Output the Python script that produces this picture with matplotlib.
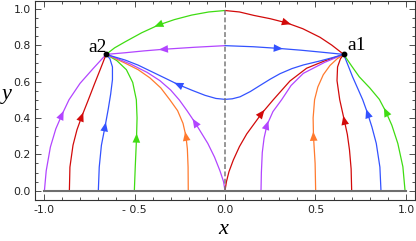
import numpy as np
import matplotlib
matplotlib.use("Agg")
import matplotlib.pyplot as plt
from matplotlib.ticker import FixedLocator, MultipleLocator

# ---- data ----
a1 = (0.656, 0.749)
a2 = (-0.657, 0.749)

# trajectories ending at a2 (ordered start -> a2)
purple_m1 = [(-0.998, 0.0), (-0.988, 0.11), (-0.965, 0.24), (-0.935, 0.34), (-0.902, 0.416),
             (-0.862, 0.50), (-0.801, 0.59), (-0.728, 0.672), a2]
red_m086 = [(-0.860, 0.0), (-0.857, 0.13), (-0.840, 0.25), (-0.818, 0.335), (-0.792, 0.407),
            (-0.757, 0.495), (-0.722, 0.585), (-0.690, 0.665), a2]
blue_m07 = [(-0.700, 0.0), (-0.695, 0.13), (-0.683, 0.25), (-0.663, 0.352), (-0.645, 0.45),
            (-0.632, 0.53), (-0.622, 0.61), (-0.622, 0.68), (-0.636, 0.725), a2]
green_m05 = [(-0.501, 0.0), (-0.496, 0.13), (-0.489, 0.29), (-0.486, 0.40), (-0.490, 0.50),
             (-0.510, 0.595), (-0.545, 0.665), (-0.598, 0.715), a2]
orange_m02 = [(-0.203, 0.0), (-0.204, 0.13), (-0.208, 0.23), (-0.216, 0.30), (-0.232, 0.37),
              (-0.262, 0.44), (-0.305, 0.50), (-0.355, 0.565), (-0.415, 0.62), (-0.480, 0.665),
              (-0.550, 0.70), (-0.610, 0.728), a2]
purple_0 = [(0.0, 0.0), (-0.008, 0.05), (-0.028, 0.11), (-0.058, 0.185), (-0.095, 0.26),
            (-0.166, 0.375), (-0.210, 0.44), (-0.252, 0.498), (-0.300, 0.553), (-0.360, 0.605),
            (-0.430, 0.65), (-0.520, 0.695), (-0.600, 0.728), a2]
green_top = [(0.0, 0.99), (-0.09, 0.982), (-0.184, 0.965), (-0.28, 0.94), (-0.368, 0.91),
             (-0.46, 0.868), (-0.552, 0.818), (-0.61, 0.785), a2]
purple_upper = [(0.0, 0.797), (-0.17, 0.788), (-0.341, 0.777), (-0.45, 0.768), (-0.552, 0.758), a2]
blue_lower_l = [(0.0, 0.502), (-0.05, 0.507), (-0.11, 0.524), (-0.18, 0.551), (-0.258, 0.583),
                (-0.33, 0.618), (-0.405, 0.654), (-0.48, 0.69), (-0.552, 0.718), a2]

# trajectories ending at a1 (ordered start -> a1)
red_0 = [(0.0, 0.0), (0.008, 0.05), (0.022, 0.105), (0.046, 0.169), (0.08, 0.243), (0.12, 0.312),
         (0.203, 0.425), (0.267, 0.50), (0.359, 0.603), (0.451, 0.673), (0.55, 0.713), a1]
purple_02 = [(0.199, 0.0), (0.201, 0.10), (0.206, 0.21), (0.216, 0.29), (0.232, 0.361),
             (0.265, 0.435), (0.313, 0.50), (0.365, 0.578), (0.433, 0.645), (0.55, 0.705), a1]
orange_05 = [(0.501, 0.0), (0.498, 0.15), (0.489, 0.30), (0.487, 0.40), (0.495, 0.50),
             (0.513, 0.57), (0.543, 0.637), (0.58, 0.688), (0.62, 0.725), a1]
red_07 = [(0.700, 0.0), (0.697, 0.12), (0.688, 0.224), (0.676, 0.31), (0.659, 0.388),
          (0.634, 0.50), (0.619, 0.605), (0.622, 0.68), (0.638, 0.725), a1]
blue_086 = [(0.862, 0.0), (0.856, 0.13), (0.836, 0.26), (0.812, 0.35), (0.788, 0.425),
            (0.761, 0.50), (0.705, 0.626), a1]
green_1 = [(0.995, 0.0), (0.983, 0.132), (0.955, 0.26), (0.922, 0.36), (0.889, 0.434),
           (0.853, 0.502), (0.80, 0.565), (0.742, 0.626), (0.70, 0.685), a1]
red_top = [(0.0, 0.99), (0.08, 0.982), (0.16, 0.963), (0.25, 0.945), (0.341, 0.922),
           (0.43, 0.89), (0.525, 0.843), (0.59, 0.80), a1]
blue_upper = [(0.0, 0.797), (0.157, 0.791), (0.295, 0.782), (0.42, 0.772), (0.525, 0.762), a1]
blue_lower_r = [(0.0, 0.502), (0.04, 0.505), (0.083, 0.516), (0.14, 0.545), (0.193, 0.578),
                (0.25, 0.613), (0.304, 0.643), (0.37, 0.671), (0.433, 0.691), (0.525, 0.713),
                (0.59, 0.73), a1]

baseline_x = [-1.0, 1.0]
divider_y = [0.0, 1.0]

x_ticks = [-1.0, -0.5, 0.0, 0.5, 1.0]
x_tick_labels = ["-1.0", "- 0.5", "0.0", "0.5", "1.0"]
y_ticks = [0.0, 0.2, 0.4, 0.6, 0.8, 1.0]
y_tick_labels = ["0.0", "0.2", "0.4", "0.6", "0.8", "1.0"]

# ---- styles ----
RED = "#d20a0a"
GREEN = "#3fdc12"
BLUE = "#3352ff"
PURPLE = "#b245ff"
ORANGE = "#ff7a2e"

curves = [
    (purple_m1, PURPLE, 4), (red_m086, RED, 4), (blue_m07, BLUE, 3), (green_m05, GREEN, 2),
    (orange_m02, ORANGE, 3), (purple_0, PURPLE, 5), (green_top, GREEN, 4),
    (purple_upper, PURPLE, 2), (blue_lower_l, BLUE, 4),
    (red_0, RED, 6), (purple_02, PURPLE, 4), (orange_05, ORANGE, 2), (red_07, RED, 4),
    (blue_086, BLUE, 4), (green_1, GREEN, 4), (red_top, RED, 4), (blue_upper, BLUE, 2),
    (blue_lower_r, BLUE, None),
]

DPI = 100
fig = plt.figure(figsize=(4.16, 2.41), dpi=DPI)
W, H = 416, 241
ax = fig.add_axes([35 / W, (H - 199.5) / H, 380 / W, 199 / H])
ax.set_xlim(-1.05, 1.05)
ax.set_ylim(-0.048, 1.045)

for pts, col, ai in curves:
    xs = [p[0] for p in pts]
    ys = [p[1] for p in pts]
    ax.plot(xs, ys, color=col, lw=0.9, solid_capstyle="round", solid_joinstyle="round", zorder=2)

ax.plot(baseline_x, [0, 0], color="#6e6e6e", lw=1.5, zorder=3)
ax.plot([0, 0], divider_y, color="#7a7a7a", lw=1.1, ls=(0, (3.2, 1.6)), zorder=3)

fig.canvas.draw()
tr = ax.transData
for pts, col, ai in curves:
    if ai is None:
        continue
    c = np.array(tr.transform(pts[ai]))
    p0 = np.array(tr.transform(pts[ai - 1]))
    p1 = np.array(tr.transform(pts[ai + 1]))
    d = p1 - p0
    d = d / np.hypot(*d)
    tip = tr.inverted().transform(c + d * 4.5)
    tail = tr.inverted().transform(c - d * 4.5)
    ax.annotate("", xy=tip, xytext=tail, xycoords="data", textcoords="data",
                arrowprops=dict(arrowstyle="-|>,head_length=0.55,head_width=0.23",
                                mutation_scale=12, color=col, lw=0.0,
                                shrinkA=0, shrinkB=0), zorder=4)

ax.plot([a1[0], a2[0]], [a1[1], a2[1]], ls="none", marker="o", ms=3.2, color="black", zorder=5)
ax.annotate("a1", xy=a1, xytext=(3, 3), textcoords="offset points", ha="left", va="baseline",
            fontsize=14, family="Liberation Serif", zorder=6)
ax.annotate("a2", xy=a2, xytext=(0.5, 2), textcoords="offset points", ha="right", va="baseline",
            fontsize=14, family="Liberation Serif", zorder=6)

ax.xaxis.set_major_locator(FixedLocator(x_ticks))
ax.xaxis.set_minor_locator(MultipleLocator(0.1))
ax.yaxis.set_major_locator(FixedLocator(y_ticks))
ax.yaxis.set_minor_locator(MultipleLocator(0.05))
ax.set_xticklabels(x_tick_labels)
ax.set_yticklabels(y_tick_labels)
ax.tick_params(which="both", direction="in", top=True, right=True, width=0.6, colors="#333333",
               labelcolor="#222222", labelsize=7.8)
ax.tick_params(which="major", length=4.0)
ax.tick_params(which="minor", length=2.2)
ax.tick_params(axis="x", pad=4)
ax.tick_params(axis="y", pad=3)
for lab in ax.get_xticklabels() + ax.get_yticklabels():
    lab.set_family("DejaVu Sans")
for s in ax.spines.values():
    s.set_linewidth(0.8)
    s.set_color("#333333")

fig.text(223.5 / W, 1 - 230 / H, "x", ha="center", va="center", fontsize=16,
         family="Liberation Serif", style="italic")
fig.text(7 / W, 1 - 94 / H, "y", ha="center", va="center", fontsize=16,
         family="Liberation Serif", style="italic")

fig.savefig("out.png", dpi=DPI)
